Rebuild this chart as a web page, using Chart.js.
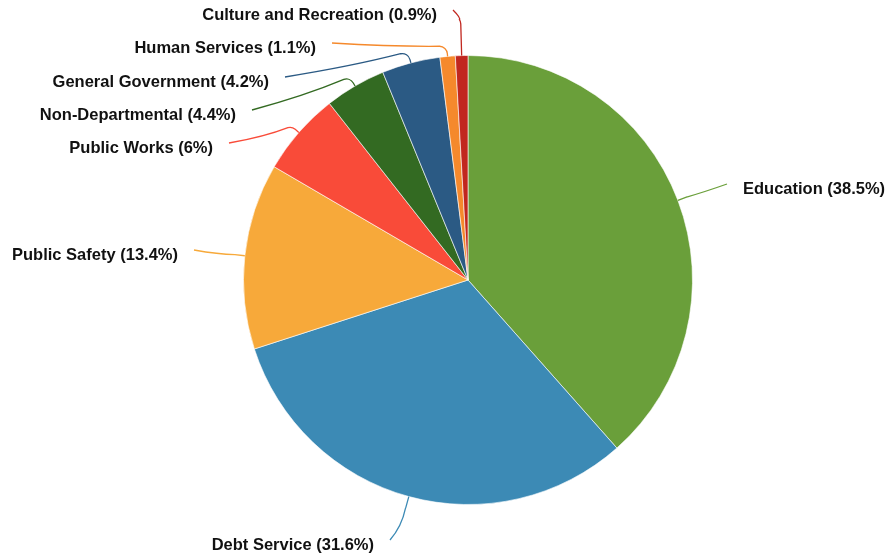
<!DOCTYPE html>
<html>
<head>
<meta charset="utf-8">
<title>Budget by Function</title>
<script src="https://cdn.jsdelivr.net/npm/chart.js@4.4.1/dist/chart.umd.min.js"></script>
<style>
  html, body { margin: 0; padding: 0; background: #fff; }
  #wrap { width: 888px; height: 558px; position: relative; }
</style>
</head>
<body>
<div id="wrap"><canvas id="budgetPie"></canvas></div>
<script>
// spending share by function, in percent
const categories = [
    'Education', 'Debt Service', 'Public Safety', 'Public Works',
    'Non-Departmental', 'General Government', 'Human Services', 'Culture and Recreation'
];
const shares = [38.5, 31.6, 13.4, 6, 4.4, 4.2, 1.1, 0.9];

const sliceColors = [
    '#6a9f3a', '#3c8ab5', '#f7a93a', '#f94b39',
    '#336a22', '#2b5a84', '#f5892c', '#c1271f'
];

// leader line layout: knee distance past the rim, and line end relative to pie centre
const leaderLayout = [
    { knee: 10, dx: 259, dy: -96 },
    { knee: 12, dx: -78, dy: 260 },
    { knee: 10, dx: -274, dy: -30 },
    { knee: 9, dx: -239, dy: -137 },
    { knee: 10, dx: -216, dy: -170 },
    { knee: 11, dx: -183, dy: -203 },
    { knee: 10, dx: -136, dy: -237 },
    { knee: 34, dx: -15, dy: -270 }
];

const pieLabels = {
    id: 'pieLabels',
    afterDatasetsDraw(chart) {
        const ctx = chart.ctx;
        const arcs = chart.getDatasetMeta(0).data;
        ctx.save();
        ctx.font = 'bold 16.5px "Liberation Sans", Arial, Helvetica, sans-serif';
        arcs.forEach((arc, i) => {
            const p = arc.getProps(['x', 'y', 'startAngle', 'endAngle', 'outerRadius'], true);
            const mid = (p.startAngle + p.endAngle) / 2;
            const lay = leaderLayout[i];
            const r0 = p.outerRadius;
            const x0 = p.x + Math.cos(mid) * r0;
            const y0 = p.y + Math.sin(mid) * r0;
            const xk = p.x + Math.cos(mid) * (r0 + lay.knee);
            const yk = p.y + Math.sin(mid) * (r0 + lay.knee);
            const xe = p.x + lay.dx;
            const ye = p.y + lay.dy;
            const rightSide = xe > p.x;

            // rim -> knee, then a soft bend toward the label
            ctx.beginPath();
            ctx.moveTo(x0, y0);
            ctx.arcTo(xk, yk, xe, ye, 8);
            ctx.quadraticCurveTo(
                (xk + xe) / 2 + (rightSide ? -4 : 4), (yk + ye) / 2 + 2,
                xe, ye
            );
            ctx.strokeStyle = sliceColors[i];
            ctx.lineWidth = 1.3;
            ctx.stroke();

            ctx.fillStyle = '#111';
            ctx.textAlign = rightSide ? 'left' : 'right';
            ctx.textBaseline = 'alphabetic';
            const text = categories[i] + ' (' + shares[i] + '%)';
            ctx.fillText(text, xe + (rightSide ? 16 : -16), ye + 10);
        });
        ctx.restore();
    }
};

new Chart(document.getElementById('budgetPie'), {
    type: 'pie',
    data: {
        labels: categories,
        datasets: [{
            data: shares,
            backgroundColor: sliceColors,
            borderColor: 'rgba(255, 255, 255, 0.6)',
            borderWidth: 1
        }]
    },
    options: {
        responsive: true,
        maintainAspectRatio: false,
        animation: false,
        layout: {
            padding: { top: 55, bottom: 53, left: 243, right: 195 }
        },
        plugins: {
            legend: { display: false },
            tooltip: { enabled: false }
        }
    },
    plugins: [pieLabels]
});
</script>
</body>
</html>
